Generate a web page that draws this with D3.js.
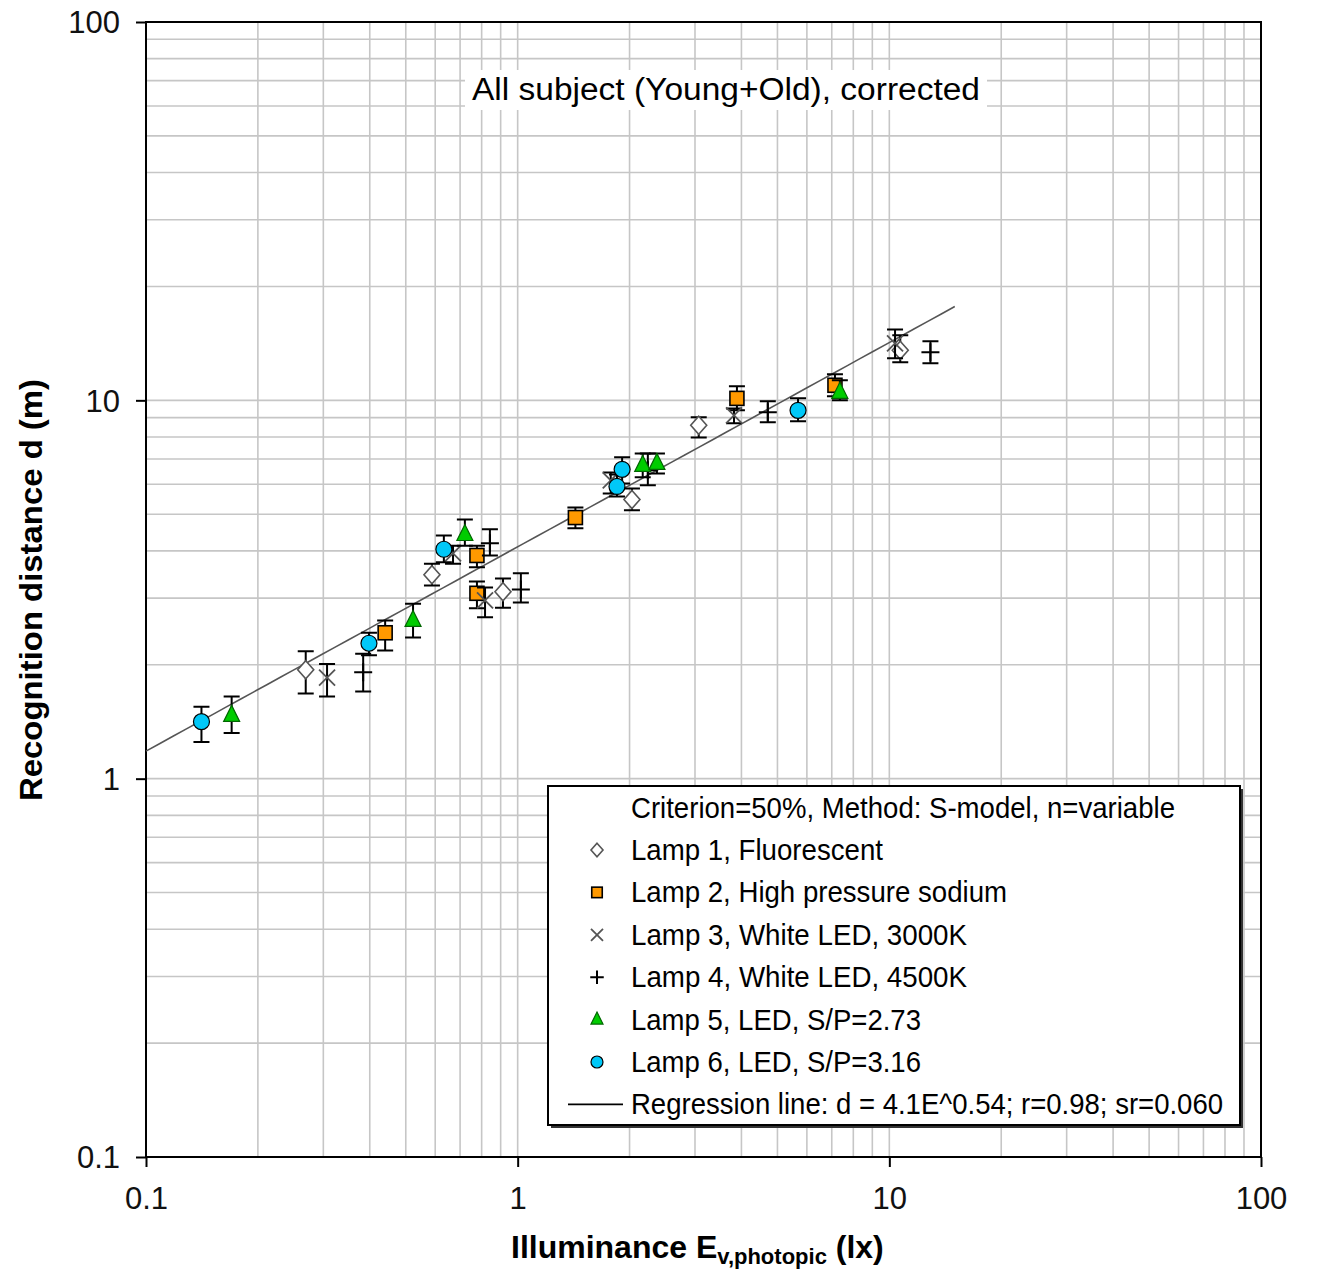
<!DOCTYPE html>
<html lang="en">
  <head>
    <meta charset="UTF-8" />
    <title>Recognition distance</title>
    <script src="https://cdn.jsdelivr.net/npm/d3@7/dist/d3.min.js"></script>
    <style>
      body {
        margin: 0;
        padding: 0;
        background: #fff;
      }
      svg text {
        font-family: "Liberation Sans", Arial, sans-serif;
      }
    </style>
  </head>
  <body>
    <svg id="chart" width="1317" height="1273"></svg>

    <script>
      // each point: [illuminance, distance, lower error, upper error]
      const lamp1 = [
        [0.269, 1.94, 1.68, 2.17],
        [0.588, 3.46, 3.24, 3.7],
        [0.913, 3.12, 2.83, 3.38],
        [2.03, 5.47, 5.12, 5.85],
        [3.07, 8.59, 7.98, 9.02],
        [10.7, 13.56, 12.6, 14.86],
      ];
      const lamp2 = [
        [0.44, 2.43, 2.18, 2.62],
        [0.777, 3.89, 3.62, 4.13],
        [0.777, 3.09, 2.82, 3.32],
        [1.43, 4.9, 4.59, 5.21],
        [3.89, 10.12, 9.41, 10.89],
        [7.14, 10.96, 10.25, 11.72],
      ];
      const lamp3 = [
        [0.307, 1.85, 1.65, 2.01],
        [0.67, 3.94, 3.7, 4.13],
        [0.817, 2.96, 2.67, 3.2],
        [1.78, 6.14, 5.67, 6.45],
        [3.82, 9.13, 8.7, 9.52],
        [10.36, 14.15, 12.92, 15.4],
      ];
      const lamp4 = [
        [0.384, 1.91, 1.7, 2.14],
        [0.842, 4.19, 3.89, 4.56],
        [1.02, 3.16, 2.92, 3.49],
        [2.24, 6.53, 5.96, 7.24],
        [4.71, 9.3, 8.75, 9.94],
        [12.9, 13.4, 12.53, 14.33],
      ];
      const lamp5 = [
        [0.17, 1.47, 1.32, 1.65],
        [0.523, 2.62, 2.36, 2.9],
        [0.721, 4.42, 4.13, 4.84],
        [2.17, 6.73, 6.26, 7.24],
        [2.37, 6.81, 6.41, 7.24],
        [7.36, 10.5, 10.0, 11.3],
      ];
      const lamp6 = [
        [0.141, 1.415, 1.25, 1.55],
        [0.398, 2.28, 2.12, 2.43],
        [0.633, 4.04, 3.73, 4.39],
        [1.91, 6.57, 6.03, 7.07],
        [1.85, 5.92, 5.57, 6.37],
        [5.68, 9.41, 8.8, 10.12],
      ];

      const legendLabels = [
        "Lamp 1, Fluorescent",
        "Lamp 2, High pressure sodium",
        "Lamp 3, White LED, 3000K",
        "Lamp 4, White LED, 4500K",
        "Lamp 5, LED, S/P=2.73",
        "Lamp 6, LED, S/P=3.16",
      ];
      const tickValues = [0.1, 1, 10, 100];
      const tickLabels = ["0.1", "1", "10", "100"];

      // regression d = a * E^b
      const regA = 4.1;
      const regB = 0.54;
      const regRange = [0.1, 15];

      const svg = d3.select("#chart");

      const x = d3.scaleLog().domain([0.1, 100]).range([146, 1261]);
      const y = d3.scaleLog().domain([0.1, 100]).range([1157, 22]);

      // grid lines (major + minor)
      const gridVals = [];
      for (let dec = 0.1; dec < 100; dec *= 10) {
        for (let k = 1; k <= 9; k++) gridVals.push(+(dec * k).toPrecision(3));
      }

      const grid = svg.append("g");
      grid
        .selectAll(".vg")
        .data(gridVals)
        .enter()
        .append("line")
        .attr("x1", (d) => x(d))
        .attr("x2", (d) => x(d))
        .attr("y1", y(0.1))
        .attr("y2", y(100))
        .attr("stroke", "#c6c6c6")
        .attr("stroke-width", 1.6);
      grid
        .selectAll(".hg")
        .data(gridVals)
        .enter()
        .append("line")
        .attr("y1", (d) => y(d))
        .attr("y2", (d) => y(d))
        .attr("x1", x(0.1))
        .attr("x2", x(100))
        .attr("stroke", "#c6c6c6")
        .attr("stroke-width", 1.6);

      // axes
      const fmt = (d) => tickLabels[tickValues.indexOf(d)];
      const xAxis = svg
        .append("g")
        .attr("transform", "translate(0," + y(0.1) + ")")
        .call(d3.axisBottom(x).tickValues(tickValues).tickSize(10).tickPadding(20).tickFormat(fmt));
      const yAxis = svg
        .append("g")
        .attr("transform", "translate(" + x(0.1) + ",0)")
        .call(d3.axisLeft(y).tickValues(tickValues).tickSize(10).tickPadding(16).tickFormat(fmt));
      [xAxis, yAxis].forEach((a) => {
        a.select(".domain").remove();
        a.selectAll(".tick line").attr("stroke", "#000").attr("stroke-width", 2);
        a.selectAll(".tick text")
          .attr("fill", "#111")
          .style("font-size", "31px")
          .style("font-family", '"Liberation Sans", Arial, sans-serif');
      });
      yAxis.selectAll(".tick text").attr("dy", "0.35em");

      // plot frame
      svg
        .append("rect")
        .attr("x", x(0.1))
        .attr("y", y(100))
        .attr("width", x(100) - x(0.1))
        .attr("height", y(0.1) - y(100))
        .attr("fill", "none")
        .attr("stroke", "#000")
        .attr("stroke-width", 2);

      // title box
      const titleG = svg.append("g");
      titleG
        .append("rect")
        .attr("x", 465)
        .attr("y", 70)
        .attr("width", 522)
        .attr("height", 40)
        .attr("fill", "#fff");
      titleG
        .append("text")
        .attr("x", 726)
        .attr("y", 100)
        .attr("text-anchor", "middle")
        .style("font-size", "31px")
        .attr("textLength", 508)
        .attr("lengthAdjust", "spacingAndGlyphs")
        .text("All subject (Young+Old), corrected");

      // regression line
      const regData = d3.range(0, 61).map((i) => {
        const e = regRange[0] * Math.pow(regRange[1] / regRange[0], i / 60);
        return [e, regA * Math.pow(e, regB)];
      });
      svg
        .append("path")
        .datum(regData)
        .attr("fill", "none")
        .attr("stroke", "#555")
        .attr("stroke-width", 1.6)
        .attr(
          "d",
          d3
            .line()
            .x((d) => x(d[0]))
            .y((d) => y(d[1]))
        );

      // marker drawing
      function drawMarker(g, type, s) {
        if (type === "diamond") {
          g.append("path")
            .attr("d", `M0,${-9 * s}L${8 * s},0L0,${9 * s}L${-8 * s},0Z`)
            .attr("fill", "#fff")
            .attr("stroke", "#555")
            .attr("stroke-width", 1.6);
        } else if (type === "square") {
          g.append("rect")
            .attr("x", -7 * s)
            .attr("y", -7 * s)
            .attr("width", 14 * s)
            .attr("height", 14 * s)
            .attr("fill", "#ff9900")
            .attr("stroke", "#000")
            .attr("stroke-width", 1.6);
        } else if (type === "x") {
          g.append("path")
            .attr("d", `M${-8 * s},${-8 * s}L${8 * s},${8 * s}M${8 * s},${-8 * s}L${-8 * s},${8 * s}`)
            .attr("stroke", "#555")
            .attr("stroke-width", 1.8);
        } else if (type === "plus") {
          g.append("path")
            .attr("d", `M${-9 * s},0L${9 * s},0M0,${-9 * s}L0,${9 * s}`)
            .attr("stroke", "#000")
            .attr("stroke-width", 2);
        } else if (type === "triangle") {
          g.append("path")
            .attr("d", `M0,${-10 * s}L${8 * s},${6 * s}L${-8 * s},${6 * s}Z`)
            .attr("fill", "#00cc00")
            .attr("stroke", "#006600")
            .attr("stroke-width", 1.2);
        } else if (type === "circle") {
          g.append("circle")
            .attr("r", 8 * s)
            .attr("fill", "#00c8f8")
            .attr("stroke", "#000")
            .attr("stroke-width", 1.2);
        }
      }

      const series = [
        { data: lamp1, type: "diamond" },
        { data: lamp2, type: "square" },
        { data: lamp3, type: "x" },
        { data: lamp4, type: "plus" },
        { data: lamp5, type: "triangle" },
        { data: lamp6, type: "circle" },
      ];

      series.forEach((s) => {
        const g = svg.append("g");
        // error bars
        s.data.forEach((p) => {
          const px = x(p[0]);
          g.append("path")
            .attr(
              "d",
              `M${px},${y(p[2])}L${px},${y(p[3])}M${px - 8},${y(p[2])}L${px + 8},${y(p[2])}M${px - 8},${y(p[3])}L${px + 8},${y(p[3])}`
            )
            .attr("stroke", "#000")
            .attr("stroke-width", 2)
            .attr("fill", "none");
        });
        s.data.forEach((p) => {
          const m = g.append("g").attr("transform", `translate(${x(p[0])},${y(p[1])})`);
          drawMarker(m, s.type, 1);
        });
      });

      // legend
      const lg = svg.append("g");
      lg.append("rect")
        .attr("x", 551)
        .attr("y", 789)
        .attr("width", 692)
        .attr("height", 339)
        .attr("fill", "#333");
      lg.append("rect")
        .attr("x", 548)
        .attr("y", 786)
        .attr("width", 692)
        .attr("height", 339)
        .attr("fill", "#fff")
        .attr("stroke", "#000")
        .attr("stroke-width", 2);

      lg.append("text")
        .attr("x", 631)
        .attr("y", 818)
        .style("font-size", "29px")
        .attr("textLength", 544)
        .attr("lengthAdjust", "spacingAndGlyphs")
        .text("Criterion=50%, Method: S-model, n=variable");

      const legendWidths = [252, 376, 336, 336, 290, 290];
      series.forEach((s, i) => {
        const cy = 850 + i * 42.4;
        const m = lg.append("g").attr("transform", `translate(597,${cy})`);
        drawMarker(m, s.type, 0.75);
        lg.append("text")
          .attr("x", 631)
          .attr("y", cy + 10)
          .style("font-size", "29px")
          .attr("textLength", legendWidths[i])
          .attr("lengthAdjust", "spacingAndGlyphs")
          .text(legendLabels[i]);
      });
      const regY = 850 + 6 * 42.4;
      lg.append("line")
        .attr("x1", 568)
        .attr("x2", 623)
        .attr("y1", regY)
        .attr("y2", regY)
        .attr("stroke", "#000")
        .attr("stroke-width", 1.6);
      lg.append("text")
        .attr("x", 631)
        .attr("y", regY + 10)
        .style("font-size", "29px")
        .attr("textLength", 592)
        .attr("lengthAdjust", "spacingAndGlyphs")
        .text("Regression line: d = 4.1E^0.54; r=0.98; sr=0.060");

      // axis titles
      svg
        .append("text")
        .attr("transform", "translate(42,590) rotate(-90)")
        .attr("text-anchor", "middle")
        .style("font-size", "31px")
        .style("font-weight", "bold")
        .attr("textLength", 422)
        .attr("lengthAdjust", "spacingAndGlyphs")
        .text("Recognition distance d (m)");

      const xt = svg
        .append("text")
        .attr("x", 511)
        .attr("y", 1258)
        .style("font-size", "32px")
        .style("font-weight", "bold");
      xt.append("tspan").text("Illuminance E");
      xt.append("tspan").attr("dy", 6).style("font-size", "22px").text("v,photopic");
      xt.append("tspan").attr("dy", -6).text(" (lx)");
    </script>
  </body>
</html>
